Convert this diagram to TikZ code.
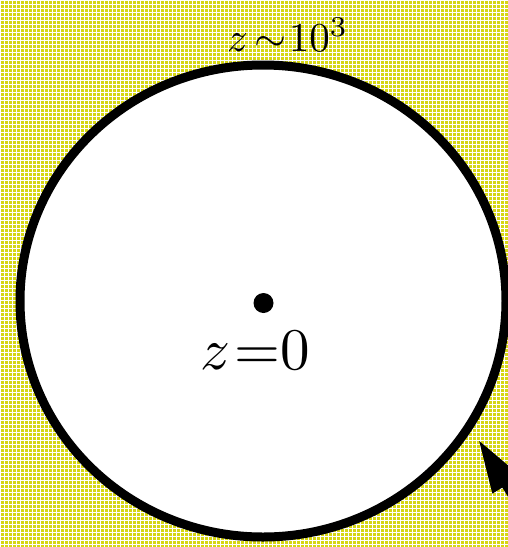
\documentclass[tikz,border=0pt]{standalone}
\usetikzlibrary{arrows.meta}
\definecolor{bgyellow}{RGB}{214,214,20}
\tikzset{
  rim/.style={draw=black, fill=white, line width=9pt},
  lbl/.style={inner sep=0pt, outer sep=0pt, anchor=base west, font=\normalsize},
  bigarrow/.style={line width=10pt, -{Triangle[length=54pt,width=30pt]}},
}
\begin{document}
\begin{tikzpicture}[x=1pt,y=-1pt]
  \useasboundingbox (0,0) rectangle (508,547);
  \clip (0,0) rectangle (508,547);
  % background pattern
  \fill[bgyellow] (0,0) rectangle (508,547);
  \draw[white, line width=1pt, step=4pt] (-2,-2) grid (512,551);
  % circle
  \draw[rim] (263,301) ellipse [x radius=243pt, y radius=236pt];
  % centre dot
  \node[circle, fill=black, minimum size=20pt, inner sep=0pt] (dot) at (263.5,303) {};
  % labels
  \node[lbl, scale=4.1] (top) at (227,51) {$z\mkern3mu{\sim}\mkern1mu10^3$};
  \node[lbl, scale=5.9] (zero) at (200,369) {$z\mkern1.5mu{=}0$};
  % arrow
  \coordinate (atail) at (557,566);
  \coordinate (atip) at (478,439);
  \draw[bigarrow] (atail) -- (atip);
\end{tikzpicture}
\end{document}
